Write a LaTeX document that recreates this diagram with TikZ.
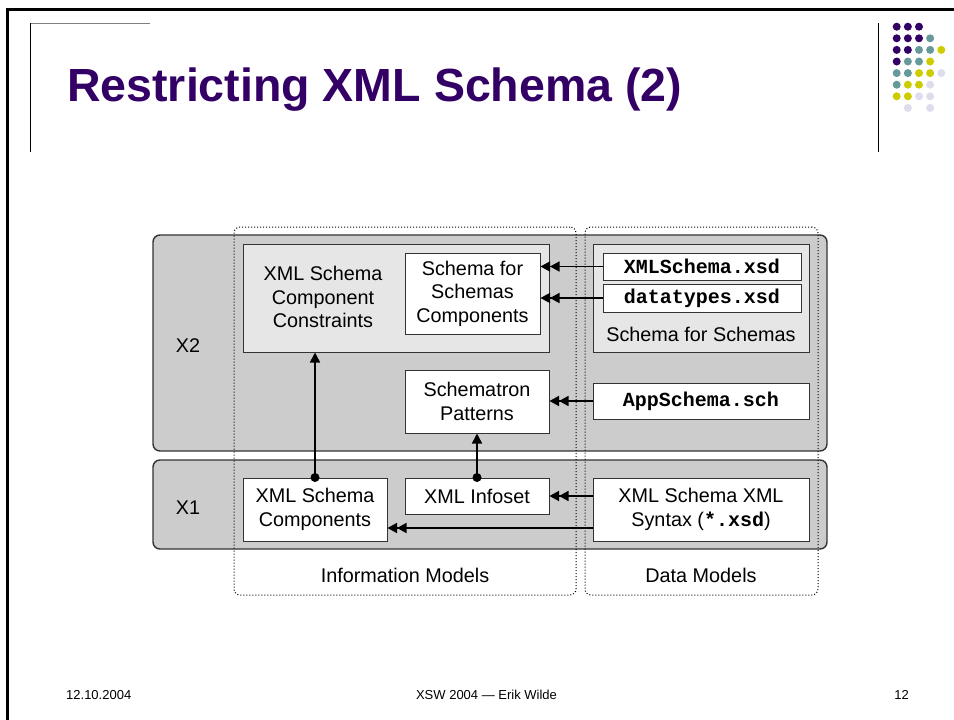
\documentclass[tikz,border=0pt]{standalone}
\usepackage{fontspec}
\setmainfont{Liberation Sans}
\newfontfamily\monofont{Liberation Mono}
\usetikzlibrary{arrows.meta,calc}
\definecolor{titlepurple}{HTML}{330066}
\definecolor{dotpurple}{HTML}{330066}
\definecolor{dotteal}{HTML}{669999}
\definecolor{dotyellow}{HTML}{CCCC00}
\definecolor{dotlav}{HTML}{DDDDEE}
\definecolor{bandgray}{HTML}{CCCCCC}
\definecolor{lightbox}{HTML}{E6E6E6}
\definecolor{edgegray}{HTML}{333333}
\tikzset{
  bodyfont/.style={font=\fontsize{19.8}{23.5}\selectfont},
  band/.style={draw=edgegray, line width=1.4pt, fill=bandgray, rounded corners=7pt, inner sep=0pt},
  region/.style={draw=black, line width=1pt, dash pattern=on 1pt off 2pt, rounded corners=6pt, inner sep=0pt},
  graybox/.style={draw=edgegray, line width=1pt, fill=lightbox, inner sep=0pt},
  whitebox/.style={draw=edgegray, line width=1pt, fill=white, inner sep=0pt, align=center, bodyfont},
  lbl/.style={bodyfont, align=center, inner sep=0pt},
  mono/.style={font=\fontsize{20}{24}\selectfont\monofont\bfseries},
  dblarrow/.style={line width=1.5pt, -{Triangle[length=9.5pt,width=10pt]Triangle[length=9.5pt,width=10pt]}},
  sglarrow/.style={line width=1.5pt, -{Triangle[length=10pt,width=10pt]}},
  footer/.style={font=\fontsize{13}{15}\selectfont, inner sep=0pt}
}
\begin{document}
\begin{tikzpicture}[x=1pt,y=-1pt]
\useasboundingbox (0,0) rectangle (954,720);
% slide frame
\draw[line width=2.8pt] (7.5,720) -- (7.5,9.7) -- (954,9.7);
\draw[line width=1pt, gray] (30,23) -- (150,23);
\draw[line width=1pt] (30,23) -- (30,152);
\draw[line width=1pt] (878,23) -- (878,152);
% dots
\foreach \c/\r/\col in {1/1/dotpurple,2/1/dotpurple,3/1/dotpurple,
  1/2/dotpurple,2/2/dotpurple,3/2/dotpurple,4/2/dotteal,
  1/3/dotpurple,2/3/dotpurple,3/3/dotteal,4/3/dotteal,5/3/dotyellow,
  1/4/dotpurple,2/4/dotteal,3/4/dotteal,4/4/dotyellow,
  1/5/dotteal,2/5/dotteal,3/5/dotyellow,4/5/dotyellow,5/5/dotlav,
  1/6/dotteal,2/6/dotyellow,3/6/dotyellow,4/6/dotlav,
  1/7/dotyellow,2/7/dotyellow,3/7/dotlav,4/7/dotlav,
  2/8/dotlav,4/8/dotlav}
  \fill[\col] ({896.7+11.15*(\c-1)},{26.7+11.6*(\r-1)}) circle (4);
% title
\node[anchor=base west, inner sep=0pt, text=titlepurple, font=\fontsize{46.5}{50}\selectfont\bfseries] (title) at (67,101) {Restricting XML Schema (2)};
% bands
\node[band, minimum width=674pt, minimum height=216pt] (x2) at (490,343) {};
\node[band, minimum width=674pt, minimum height=89pt] (x1) at (490,504.5) {};
% regions
\node[region, minimum width=342pt, minimum height=368pt] (info) at (405,411) {};
\node[region, minimum width=233pt, minimum height=368pt] (data) at (701.5,411) {};
\node[lbl] (infolbl) at (405,575) {Information Models};
\node[lbl] (datalbl) at (701,575) {Data Models};
\node[lbl] (x2lbl) at (188,346) {X2};
\node[lbl] (x1lbl) at (188,508) {X1};
% X2 content
\node[graybox, minimum width=306pt, minimum height=108pt] (constr) at (396,298) {};
\node[lbl] (constrlbl) at (323,297) {XML Schema\\Component\\Constraints};
\node[whitebox, minimum width=135pt, minimum height=81pt] (sfsc) at (472.5,293.5) {Schema for\\Schemas\\Components};
\node[whitebox, minimum width=144pt, minimum height=63pt] (schematron) at (477,401.5) {Schematron\\Patterns};
\node[graybox, minimum width=216pt, minimum height=108pt] (sfs) at (701,298) {};
\node[whitebox, mono, minimum width=198pt, minimum height=27pt] (xmlschema) at (702,266.5) {XMLSchema.xsd};
\node[whitebox, mono, minimum width=198pt, minimum height=28pt] (datatypes) at (702,298) {datatypes.xsd};
\node[lbl] (sfslbl) at (701,334) {Schema for Schemas};
\node[whitebox, mono, minimum width=216pt, minimum height=36pt] (appschema) at (701,401) {AppSchema.sch};
% X1 content
\node[whitebox, minimum width=144pt, minimum height=63pt] (xsc) at (315,509.5) {XML Schema\\Components};
\node[whitebox, minimum width=144pt, minimum height=36pt] (infoset) at (477,496) {XML Infoset};
\node[whitebox, minimum width=216pt, minimum height=63pt] (syntax) at (701,509.5) {XML Schema XML\\Syntax ({\monofont\bfseries\fontsize{20}{24}\selectfont *.xsd})};
% connectors
\draw[dblarrow] (xmlschema.west) -- (xmlschema.west -| sfsc.east);
\draw[dblarrow] (datatypes.west) -- (datatypes.west -| sfsc.east);
\draw[dblarrow] (appschema.west) -- (appschema.west -| schematron.east);
\draw[dblarrow] (syntax.west |- infoset.east) -- (infoset.east);
\coordinate (s2) at ([yshift=-18.5pt]syntax.west);
\draw[dblarrow] (s2) -- (s2 -| xsc.east);
\draw[sglarrow] (xsc.north) -- (xsc.north |- constr.south);
\draw[sglarrow] (infoset.north) -- (schematron.south);
\fill (xsc.north) circle (4.5);
\fill (infoset.north) circle (4.5);
% footer
\node[footer, anchor=base west] (date) at (66,699) {12.10.2004};
\node[footer, anchor=base] (conf) at (486.5,699) {XSW 2004 — Erik Wilde};
\node[footer, anchor=base east] (page) at (909,699) {12};
\end{tikzpicture}
\end{document}
